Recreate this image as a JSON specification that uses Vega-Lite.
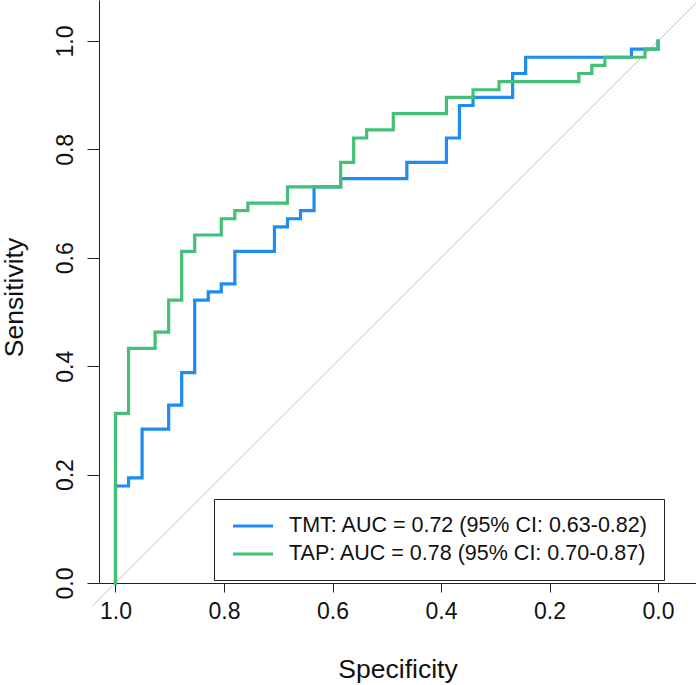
{
  "$schema": "https://vega.github.io/schema/vega-lite/v6.json",
  "width": 597,
  "height": 583,
  "autosize": {"type": "none"},
  "padding": {"left": 99, "top": 0, "right": 0, "bottom": 102},
  "background": "white",
  "datasets": {
    "roc": [
      {"test": "TMT", "i": 0, "spec": 1, "sens": 0},
      {"test": "TMT", "i": 1, "spec": 1, "sens": 0.179},
      {"test": "TMT", "i": 2, "spec": 0.976, "sens": 0.179},
      {"test": "TMT", "i": 3, "spec": 0.976, "sens": 0.194},
      {"test": "TMT", "i": 4, "spec": 0.951, "sens": 0.194},
      {"test": "TMT", "i": 5, "spec": 0.951, "sens": 0.284},
      {"test": "TMT", "i": 6, "spec": 0.902, "sens": 0.284},
      {"test": "TMT", "i": 7, "spec": 0.902, "sens": 0.328},
      {"test": "TMT", "i": 8, "spec": 0.878, "sens": 0.328},
      {"test": "TMT", "i": 9, "spec": 0.878, "sens": 0.388},
      {"test": "TMT", "i": 10, "spec": 0.854, "sens": 0.388},
      {"test": "TMT", "i": 11, "spec": 0.854, "sens": 0.522},
      {"test": "TMT", "i": 12, "spec": 0.829, "sens": 0.522},
      {"test": "TMT", "i": 13, "spec": 0.829, "sens": 0.537},
      {"test": "TMT", "i": 14, "spec": 0.805, "sens": 0.537},
      {"test": "TMT", "i": 15, "spec": 0.805, "sens": 0.552},
      {"test": "TMT", "i": 16, "spec": 0.78, "sens": 0.552},
      {"test": "TMT", "i": 17, "spec": 0.78, "sens": 0.612},
      {"test": "TMT", "i": 18, "spec": 0.707, "sens": 0.612},
      {"test": "TMT", "i": 19, "spec": 0.707, "sens": 0.657},
      {"test": "TMT", "i": 20, "spec": 0.683, "sens": 0.657},
      {"test": "TMT", "i": 21, "spec": 0.683, "sens": 0.672},
      {"test": "TMT", "i": 22, "spec": 0.659, "sens": 0.672},
      {"test": "TMT", "i": 23, "spec": 0.659, "sens": 0.687},
      {"test": "TMT", "i": 24, "spec": 0.634, "sens": 0.687},
      {"test": "TMT", "i": 25, "spec": 0.634, "sens": 0.731},
      {"test": "TMT", "i": 26, "spec": 0.585, "sens": 0.731},
      {"test": "TMT", "i": 27, "spec": 0.585, "sens": 0.746},
      {"test": "TMT", "i": 28, "spec": 0.463, "sens": 0.746},
      {"test": "TMT", "i": 29, "spec": 0.463, "sens": 0.776},
      {"test": "TMT", "i": 30, "spec": 0.39, "sens": 0.776},
      {"test": "TMT", "i": 31, "spec": 0.39, "sens": 0.821},
      {"test": "TMT", "i": 32, "spec": 0.366, "sens": 0.821},
      {"test": "TMT", "i": 33, "spec": 0.366, "sens": 0.881},
      {"test": "TMT", "i": 34, "spec": 0.341, "sens": 0.881},
      {"test": "TMT", "i": 35, "spec": 0.341, "sens": 0.896},
      {"test": "TMT", "i": 36, "spec": 0.268, "sens": 0.896},
      {"test": "TMT", "i": 37, "spec": 0.268, "sens": 0.94},
      {"test": "TMT", "i": 38, "spec": 0.244, "sens": 0.94},
      {"test": "TMT", "i": 39, "spec": 0.244, "sens": 0.97},
      {"test": "TMT", "i": 40, "spec": 0.049, "sens": 0.97},
      {"test": "TMT", "i": 41, "spec": 0.049, "sens": 0.985},
      {"test": "TMT", "i": 42, "spec": 0, "sens": 0.985},
      {"test": "TMT", "i": 43, "spec": 0, "sens": 1},
      {"test": "TAP", "i": 0, "spec": 1, "sens": 0},
      {"test": "TAP", "i": 1, "spec": 1, "sens": 0.313},
      {"test": "TAP", "i": 2, "spec": 0.976, "sens": 0.313},
      {"test": "TAP", "i": 3, "spec": 0.976, "sens": 0.433},
      {"test": "TAP", "i": 4, "spec": 0.927, "sens": 0.433},
      {"test": "TAP", "i": 5, "spec": 0.927, "sens": 0.463},
      {"test": "TAP", "i": 6, "spec": 0.902, "sens": 0.463},
      {"test": "TAP", "i": 7, "spec": 0.902, "sens": 0.522},
      {"test": "TAP", "i": 8, "spec": 0.878, "sens": 0.522},
      {"test": "TAP", "i": 9, "spec": 0.878, "sens": 0.612},
      {"test": "TAP", "i": 10, "spec": 0.854, "sens": 0.612},
      {"test": "TAP", "i": 11, "spec": 0.854, "sens": 0.642},
      {"test": "TAP", "i": 12, "spec": 0.805, "sens": 0.642},
      {"test": "TAP", "i": 13, "spec": 0.805, "sens": 0.672},
      {"test": "TAP", "i": 14, "spec": 0.78, "sens": 0.672},
      {"test": "TAP", "i": 15, "spec": 0.78, "sens": 0.687},
      {"test": "TAP", "i": 16, "spec": 0.756, "sens": 0.687},
      {"test": "TAP", "i": 17, "spec": 0.756, "sens": 0.701},
      {"test": "TAP", "i": 18, "spec": 0.683, "sens": 0.701},
      {"test": "TAP", "i": 19, "spec": 0.683, "sens": 0.731},
      {"test": "TAP", "i": 20, "spec": 0.585, "sens": 0.731},
      {"test": "TAP", "i": 21, "spec": 0.585, "sens": 0.776},
      {"test": "TAP", "i": 22, "spec": 0.561, "sens": 0.776},
      {"test": "TAP", "i": 23, "spec": 0.561, "sens": 0.821},
      {"test": "TAP", "i": 24, "spec": 0.537, "sens": 0.821},
      {"test": "TAP", "i": 25, "spec": 0.537, "sens": 0.836},
      {"test": "TAP", "i": 26, "spec": 0.488, "sens": 0.836},
      {"test": "TAP", "i": 27, "spec": 0.488, "sens": 0.866},
      {"test": "TAP", "i": 28, "spec": 0.39, "sens": 0.866},
      {"test": "TAP", "i": 29, "spec": 0.39, "sens": 0.896},
      {"test": "TAP", "i": 30, "spec": 0.341, "sens": 0.896},
      {"test": "TAP", "i": 31, "spec": 0.341, "sens": 0.91},
      {"test": "TAP", "i": 32, "spec": 0.293, "sens": 0.91},
      {"test": "TAP", "i": 33, "spec": 0.293, "sens": 0.925},
      {"test": "TAP", "i": 34, "spec": 0.146, "sens": 0.925},
      {"test": "TAP", "i": 35, "spec": 0.146, "sens": 0.94},
      {"test": "TAP", "i": 36, "spec": 0.122, "sens": 0.94},
      {"test": "TAP", "i": 37, "spec": 0.122, "sens": 0.955},
      {"test": "TAP", "i": 38, "spec": 0.098, "sens": 0.955},
      {"test": "TAP", "i": 39, "spec": 0.098, "sens": 0.97},
      {"test": "TAP", "i": 40, "spec": 0.024, "sens": 0.97},
      {"test": "TAP", "i": 41, "spec": 0.024, "sens": 0.985},
      {"test": "TAP", "i": 42, "spec": 0, "sens": 0.985},
      {"test": "TAP", "i": 43, "spec": 0, "sens": 1}
    ],
    "chance": [
      {"spec": 1.043, "sens": -0.043, "spec2": -0.1, "sens2": 1.1}
    ]
  },
  "encoding": {
    "x": {
      "field": "spec",
      "type": "quantitative",
      "title": "Specificity",
      "scale": {"domain": [-0.07, 1.0304], "reverse": true, "nice": false, "zero": false},
      "axis": {
        "values": [0, 0.2, 0.4, 0.6, 0.8, 1],
        "format": ".1f",
        "grid": false,
        "tickSize": 9,
        "labelPadding": 8,
        "labelFontSize": 23,
        "labelBaseline": "top",
        "titleFontSize": 26.5,
        "titleBaseline": "alphabetic",
        "titleY": 94
      }
    },
    "y": {
      "field": "sens",
      "type": "quantitative",
      "title": "Sensitivity",
      "scale": {"domain": [0, 1.0756], "nice": false, "zero": false},
      "axis": {
        "values": [0, 0.2, 0.4, 0.6, 0.8, 1],
        "format": ".1f",
        "grid": false,
        "tickSize": 12,
        "labelAngle": 270,
        "labelAlign": "center",
        "labelBaseline": "alphabetic",
        "labelPadding": 15,
        "labelFontSize": 23,
        "titleFontSize": 26.5,
        "titleAngle": 270,
        "titleAlign": "center",
        "titleBaseline": "alphabetic",
        "titleX": -77,
        "titleY": 297
      }
    }
  },
  "layer": [
    {
      "data": {"name": "chance"},
      "mark": {"type": "rule", "color": "#c4c4c4", "strokeWidth": 1},
      "encoding": {
        "x2": {"field": "spec2"},
        "y2": {"field": "sens2"}
      }
    },
    {
      "data": {"name": "roc"},
      "transform": [{"filter": "datum.test == 'TMT'"}],
      "mark": {"type": "line", "strokeWidth": 3.2, "strokeCap": "square"},
      "encoding": {
        "order": {"field": "i", "type": "quantitative"},
        "color": {
          "field": "test",
          "type": "nominal",
          "scale": {"domain": ["TMT", "TAP"], "range": ["#1e8cf2", "#43c077"]},
          "legend": {
            "orient": "none",
            "legendX": 115,
            "legendY": 499,
            "title": null,
            "symbolType": "M-2,0L2,0",
            "symbolSize": 400,
            "symbolStrokeWidth": 3.2,
            "symbolOffset": 12,
            "labelExpr": "datum.label == 'TMT' ? 'TMT: AUC = 0.72 (95% CI: 0.63-0.82)' : 'TAP: AUC = 0.78 (95% CI: 0.70-0.87)'",
            "labelFontSize": 21.5,
            "labelLimit": 600,
            "labelOffset": 24,
            "rowPadding": 5,
            "padding": 15,
            "strokeColor": "#222222",
            "fillColor": "white"
          }
        }
      }
    },
    {
      "data": {"name": "roc"},
      "transform": [{"filter": "datum.test == 'TAP'"}],
      "mark": {"type": "line", "strokeWidth": 3.2, "strokeCap": "square"},
      "encoding": {
        "order": {"field": "i", "type": "quantitative"},
        "color": {"field": "test", "type": "nominal"}
      }
    }
  ],
  "config": {
    "font": "Liberation Sans",
    "view": {"stroke": null},
    "axis": {
      "domainColor": "#222222",
      "tickColor": "#222222",
      "labelColor": "#111111",
      "titleColor": "#111111",
      "titleFontWeight": "normal",
      "labelFont": "Liberation Sans",
      "titleFont": "Liberation Sans"
    },
    "legend": {"labelColor": "#111111", "labelFont": "Liberation Sans"}
  }
}
